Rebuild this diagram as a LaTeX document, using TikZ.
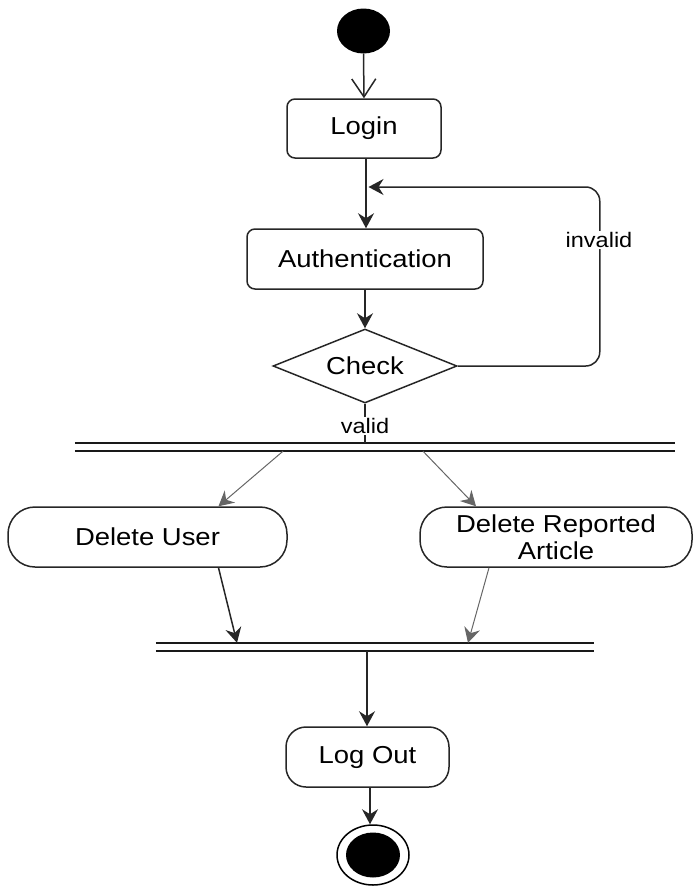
\documentclass[tikz,border=0pt]{standalone}
\usepackage{fontspec}
\setmainfont[FakeStretch=1.12]{Liberation Sans}
\usetikzlibrary{shapes.geometric,arrows.meta,calc}
\tikzset{
  act/.style={draw=black!85, line width=1.5pt, rounded corners=8pt, inner sep=0pt,
    font=\fontsize{24.5}{27}\selectfont, align=center},
  pill/.style={act, rounded corners=27pt},
  dec/.style={draw=black!85, line width=1.5pt, diamond, aspect=2.49, inner sep=0pt,
    minimum width=184pt, minimum height=74pt, font=\fontsize{24.5}{27}\selectfont},
  flow/.style={line width=1.5pt, black!85, -{Stealth[length=15pt,width=16pt,inset=5pt]}},
  thinflow/.style={line width=1pt, black!60, -{Stealth[length=15pt,width=16pt,inset=5pt]}},
  bar/.style={line width=1.6pt, black!90},
  guard/.style={fill=white, inner sep=1pt, font=\fontsize{21}{24}\selectfont},
}
\begin{document}
\begin{tikzpicture}[x=1pt,y=-1pt]
\useasboundingbox (0,0) rectangle (693,886);
% initial node
\node[draw=none, fill=black, ellipse, minimum width=53pt, minimum height=45pt, inner sep=0pt] (start) at (363.5,31) {};
% actions
\node[act, minimum width=154pt, minimum height=59pt] (login) at (364,128.5) {Login};
\node[act, minimum width=236pt, minimum height=60pt] (auth) at (365,259) {Authentication};
\node[dec] (check) at (365,366) {Check};
\node[pill, minimum width=279pt, minimum height=60pt] (deluser) at (147.5,537) {Delete User};
\node[pill, minimum width=272pt, minimum height=60pt] (delart) at (556,537) {Delete Reported\\Article};
\node[pill, minimum width=163pt, minimum height=60pt, rounded corners=20pt] (logout) at (367.5,757) {Log Out};
% final node
\node[draw=black, line width=1.5pt, ellipse, minimum width=72pt, minimum height=60pt, inner sep=0pt] (end) at (373,855) {};
\node[fill=black, ellipse, minimum width=54pt, minimum height=45pt, inner sep=0pt] (endin) at (end.center) {};
% fork / join bars
\node[minimum width=600pt, minimum height=8pt, inner sep=0pt] (fork) at (375,447) {};
\draw[bar] (fork.north west) -- (fork.north east);
\draw[bar] (fork.south west) -- (fork.south east);
\node[minimum width=438pt, minimum height=8pt, inner sep=0pt] (join) at (375,647) {};
\draw[bar] (join.north west) -- (join.north east);
\draw[bar] (join.south west) -- (join.south east);
% connectors
\draw[line width=1.5pt, black!85, -{Straight Barb[length=18pt,width=24pt,line width=1.5pt]}] (start.south) -- (login.north);
\draw[flow] ([xshift=2pt]login.south) -- ([xshift=1pt]auth.north);
\coordinate (loopend) at ($(login.south)!0.5!(auth.north)+(4pt,6.5pt)$);
\draw[flow, rounded corners=14pt] (check.east) -- ($(check.east)+(142pt,0)$) |- (loopend);
\node[guard] (invalid) at (599,240) {invalid};
\draw[flow] (auth.south) -- (check.north);
\draw[line width=1.5pt, black!85] (check.south) -- (check.south |- fork.north);
\node[guard] (valid) at (365,426) {valid};
\draw[thinflow] ([xshift=-92pt]fork.south) -- ([xshift=71pt]deluser.north);
\draw[thinflow] ([xshift=48pt]fork.south) -- ([xshift=-80pt]delart.north);
\draw[flow] ([xshift=71pt]deluser.south) -- ([xshift=-138pt]join.north);
\draw[thinflow] ([xshift=-67pt]delart.south) -- ([xshift=93pt]join.north);
\draw[flow] ([xshift=-8pt]join.south) -- ([xshift=-0.5pt]logout.north);
\draw[flow] ([xshift=2.5pt]logout.south) -- ([xshift=-3pt]end.north);
\end{tikzpicture}
\end{document}
